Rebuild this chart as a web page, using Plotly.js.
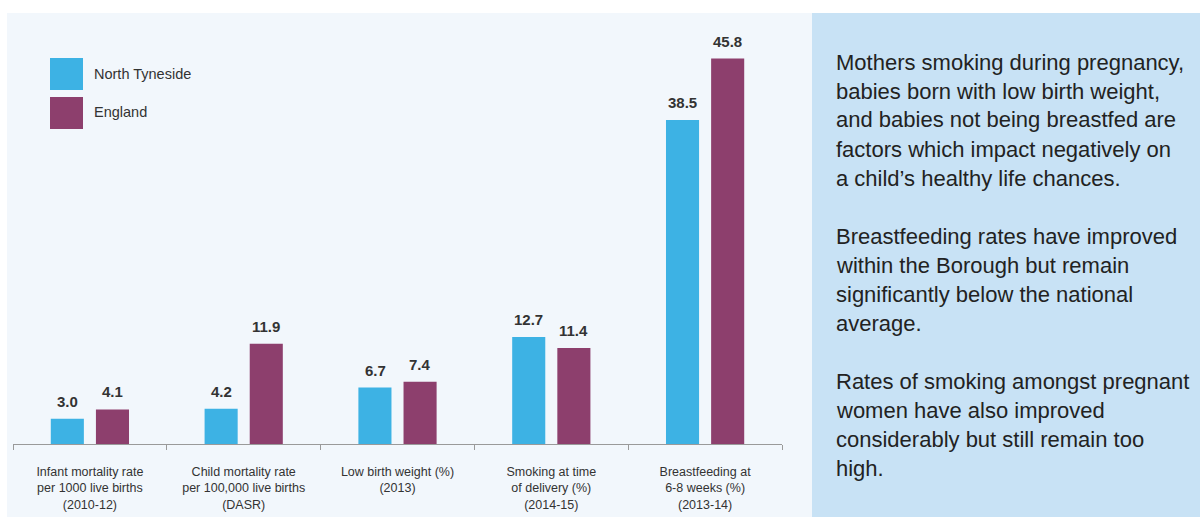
<!DOCTYPE html>
<html>
<head>
<meta charset="utf-8">
<script src="https://cdn.plot.ly/plotly-3.0.1.min.js"></script>
<style>html,body{margin:0;padding:0;background:#fff;}#chart{width:1200px;height:517px;}</style>
</head>
<body>
<div id="chart"></div>
<script>
var categories = [
  "Infant mortality rate<br>per 1000 live births<br>(2010-12)",
  "Child mortality rate<br>per 100,000 live births<br>(DASR)",
  "Low birth weight (%)<br>(2013)",
  "Smoking at time<br>of delivery (%)<br>(2014-15)",
  "Breastfeeding at<br>6-8 weeks (%)<br>(2013-14)"
];
var seriesNames = ["North Tyneside", "England"];
var northTyneside = [3.0, 4.2, 6.7, 12.7, 38.5];
var england = [4.1, 11.9, 7.4, 11.4, 45.8];
var sideText = [
  "Mothers smoking during pregnancy,",
  "babies born with low birth weight,",
  "and babies not being breastfed are",
  "factors which impact negatively on",
  "a child\u2019s healthy life chances.",
  "",
  "Breastfeeding rates have improved",
  "within the Borough but remain",
  "significantly below the national",
  "average.",
  "",
  "Rates of smoking amongst pregnant",
  "women have also improved",
  "considerably but still remain too",
  "high."
];

var W = 1200, H = 517;
var L = 13, R = 418, T = 40, B = 73;
var PW = W - L - R, PH = H - T - B;
function xp(px){ return (px - L) / PW; }
function yp(py){ return (H - B - py) / PH; }

var blue = "#3db2e4", purple = "#8d3f6d";
var sans = "Liberation Sans, Arial, sans-serif";

var traces = [
  {type:"bar", name:seriesNames[0], x:categories, y:northTyneside, marker:{color:blue}, hoverinfo:"skip"},
  {type:"bar", name:seriesNames[1], x:categories, y:england, marker:{color:purple}, hoverinfo:"skip"}
];

var annotations = [];
[northTyneside, england].forEach(function(arr, si){
  arr.forEach(function(v, i){
    annotations.push({
      x: categories[i], y: v, xref:"x", yref:"y",
      text: v.toFixed(1), showarrow:false, yanchor:"bottom",
      xshift: si === 0 ? -22.5 : 22.5, yshift: 7,
      font:{family:sans, size:15, color:"#333333", weight:"bold"}
    });
  });
});
// legend text
seriesNames.forEach(function(n, i){
  annotations.push({
    x: xp(92), y: yp(i === 0 ? 74 : 112), xref:"paper", yref:"paper",
    text: n, showarrow:false, xanchor:"left", yanchor:"middle",
    font:{family:sans, size:14.5, color:"#333333"}
  });
});
// side panel text
sideText.forEach(function(t, i){
  if (!t) return;
  annotations.push({
    x: xp(834), y: yp(62 + i * 29), xref:"paper", yref:"paper",
    text: t, showarrow:false, xanchor:"left", yanchor:"middle",
    font:{family:sans, size:22, color:"#222222"}
  });
});

var shapes = [
  {type:"rect", xref:"paper", yref:"paper", x0:xp(7), x1:xp(812), y0:yp(517), y1:yp(13),
   fillcolor:"#f2f7fc", line:{width:0}, layer:"below"},
  {type:"rect", xref:"paper", yref:"paper", x0:xp(812), x1:xp(1200), y0:yp(517), y1:yp(13),
   fillcolor:"#c8e2f5", line:{width:0}, layer:"below"},
  {type:"rect", xref:"paper", yref:"paper", x0:xp(50), x1:xp(83), y0:yp(90), y1:yp(58),
   fillcolor:blue, line:{width:0}},
  {type:"rect", xref:"paper", yref:"paper", x0:xp(50), x1:xp(83), y0:yp(129), y1:yp(97),
   fillcolor:purple, line:{width:0}}
];

var layout = {
  width: W, height: H,
  margin: {l:L, r:R, t:T, b:B, pad:0},
  paper_bgcolor: "#ffffff",
  plot_bgcolor: "rgba(0,0,0,0)",
  showlegend: false,
  barmode: "group",
  bargap: 0.413,
  bargroupgap: 0.267,
  xaxis: {
    type:"category", showgrid:false, zeroline:false,
    showline:true, linecolor:"#9a9a9a", linewidth:1,
    ticks:"outside", tickson:"boundaries", ticklen:5, tickcolor:"#9a9a9a",
    ticklabelstandoff: 16,
    tickfont:{family:sans, size:12.5, color:"#333333"},
    fixedrange:true
  },
  yaxis: {
    range:[0, 48], visible:false, showgrid:false, zeroline:false, fixedrange:true
  },
  annotations: annotations,
  shapes: shapes
};

Plotly.newPlot("chart", traces, layout, {displayModeBar:false, staticPlot:true});
</script>
</body>
</html>
